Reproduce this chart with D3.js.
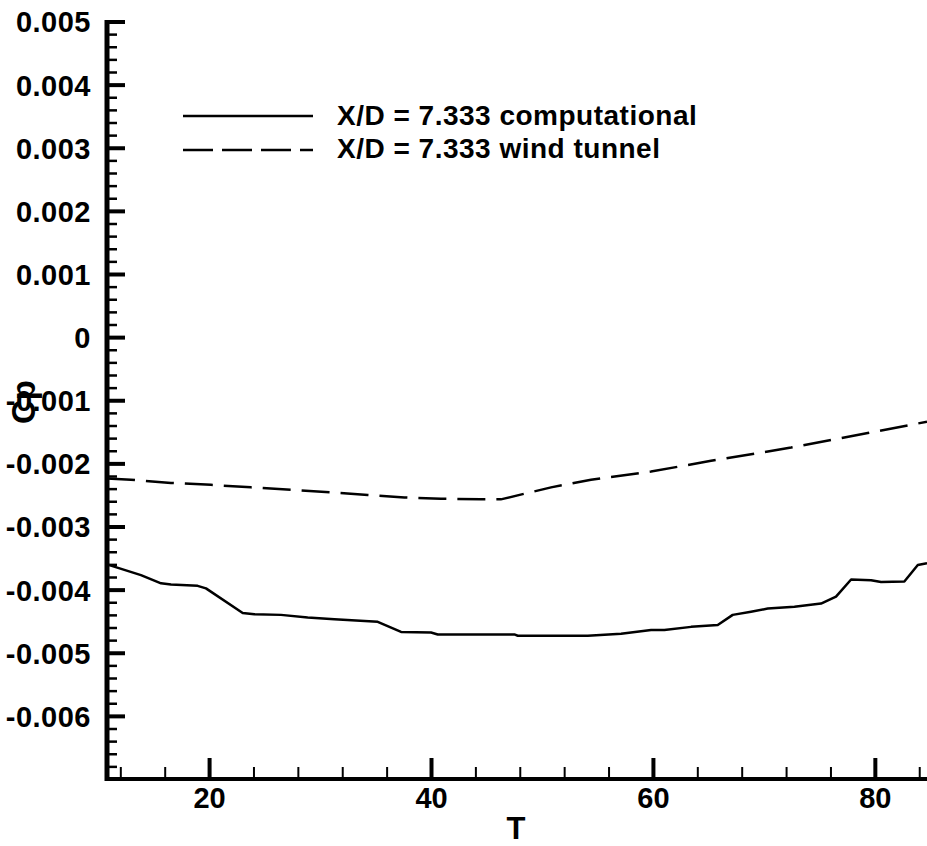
<!DOCTYPE html>
<html><head><meta charset="utf-8">
<script src="https://cdn.jsdelivr.net/npm/d3@7"></script>
<style>
html,body{margin:0;padding:0;background:#fff;}
svg{display:block;}
text{font-family:"Liberation Sans",Arial,Helvetica,sans-serif;font-weight:bold;fill:#000;}
</style>
</head><body>
<svg id="chart" width="927" height="846"></svg>
<script>
// ---- data ----
const compT  = [10.8, 13.86, 15.67, 16.57, 18.97, 19.72, 23.03, 24.08, 26.48, 28.89, 31.29, 35.20, 37.30, 40.00, 40.61, 47.51, 47.82, 54.13, 57.13, 59.83, 61.03, 63.44, 65.84, 67.19, 68.84, 70.35, 72.75, 75.15, 76.50, 77.86, 79.66, 80.56, 82.66, 83.87, 84.7];
const compCp = [-0.00360, -0.00377, -0.00390, -0.00392, -0.00394, -0.00398, -0.00437, -0.00439, -0.00440, -0.00444, -0.00447, -0.00451, -0.00467, -0.00468, -0.00471, -0.00471, -0.00473, -0.00473, -0.00470, -0.00464, -0.00464, -0.00459, -0.00456, -0.00440, -0.00435, -0.00430, -0.00427, -0.00422, -0.00411, -0.00384, -0.00385, -0.00388, -0.00387, -0.00361, -0.00358];

const tunnelT  = [10.8, 12.96, 16.57, 20.17, 23.78, 27.38, 30.99, 34.30, 37.60, 40.90, 44.51, 46.30, 50.82, 54.42, 59.83, 65.24, 72.45, 79.36, 84.7];
const tunnelCp = [-0.00224, -0.00226, -0.00231, -0.00234, -0.00238, -0.00242, -0.00246, -0.00250, -0.00254, -0.00256, -0.00257, -0.00257, -0.00238, -0.00226, -0.00213, -0.00196, -0.00175, -0.00152, -0.00134];

const seriesNames = ["X/D = 7.333 computational", "X/D = 7.333 wind tunnel"];

const yMajorTicks  = [-0.006, -0.005, -0.004, -0.003, -0.002, -0.001, 0, 0.001, 0.002, 0.003, 0.004, 0.005];
const yTickLabels  = ["-0.006", "-0.005", "-0.004", "-0.003", "-0.002", "-0.001", "0", "0.001", "0.002", "0.003", "0.004", "0.005"];
const xMajorTicks  = [20, 40, 60, 80];
const xTickLabels  = ["20", "40", "60", "80"];
const xTitle = "T";
const yTitle = "Cp";

// ---- layout ----
const svg = d3.select("#chart");
svg.append("rect").attr("width", 927).attr("height", 846).attr("fill", "#fff");

const x = d3.scaleLinear().domain([10.8, 84.7]).range([107, 927]);
const y = d3.scaleLinear().domain([-0.007, 0.005]).range([779, 21.5]);

const yMinorTicks = d3.range(-0.0068, 0.00501, 0.0002).filter(v => Math.abs(Math.round(v * 1000) - v * 1000) > 1e-6);
const xMinorTicks = d3.range(12, 85, 4).filter(v => v % 20 !== 0);

// minor y ticks
const yMinor = svg.append("g").attr("transform", "translate(107,0)")
  .call(d3.axisLeft(y).tickValues(yMinorTicks).tickSize(-10).tickSizeOuter(0).tickFormat(""));
yMinor.select(".domain").remove();
yMinor.selectAll(".tick line").attr("stroke", "#000").attr("stroke-width", 2.5);

// major y ticks + labels
const yMajor = svg.append("g").attr("transform", "translate(107,0)")
  .call(d3.axisLeft(y).tickValues(yMajorTicks).tickSize(-18).tickSizeOuter(0).tickPadding(16)
    .tickFormat((d, i) => yTickLabels[i]));
yMajor.select(".domain").attr("stroke", "#000").attr("stroke-width", 5)
  .attr("d", `M0,${y(-0.007) + 2}V${y(0.005) - 1.5}`);
yMajor.selectAll(".tick line").attr("stroke", "#000").attr("stroke-width", 4);
yMajor.selectAll(".tick text").attr("font-size", 29).attr("dy", "0.36em")
  .style("letter-spacing", "0.5px")
  .style("font-family", "'Liberation Sans', Arial, sans-serif").style("font-weight", "bold");

// minor x ticks
const xMinor = svg.append("g").attr("transform", "translate(0,779)")
  .call(d3.axisBottom(x).tickValues(xMinorTicks).tickSize(-12).tickSizeOuter(0).tickFormat(""));
xMinor.select(".domain").remove();
xMinor.selectAll(".tick line").attr("stroke", "#000").attr("stroke-width", 2);

// major x ticks + labels
const xMajor = svg.append("g").attr("transform", "translate(0,779)")
  .call(d3.axisBottom(x).tickValues(xMajorTicks).tickSize(-21).tickSizeOuter(0).tickPadding(8)
    .tickFormat((d, i) => xTickLabels[i]));
xMajor.select(".domain").attr("stroke", "#000").attr("stroke-width", 4)
  .attr("d", `M${x.range()[0] - 2},0H${x.range()[1]}`);
xMajor.selectAll(".tick line").attr("stroke", "#000").attr("stroke-width", 4);
xMajor.selectAll(".tick text").attr("font-size", 29).attr("dy", "0.71em")
  .style("font-family", "'Liberation Sans', Arial, sans-serif").style("font-weight", "bold");

// ---- curves ----
const line = d3.line().x(d => x(d[0])).y(d => y(d[1]));
const compData = compT.map((t, i) => [t, compCp[i]]);
const tunnelData = tunnelT.map((t, i) => [t, tunnelCp[i]]);

svg.append("path").datum(compData).attr("d", line)
  .attr("fill", "none").attr("stroke", "#000").attr("stroke-width", 2.5).attr("stroke-linejoin", "round");
svg.append("path").datum(tunnelData).attr("d", line)
  .attr("fill", "none").attr("stroke", "#000").attr("stroke-width", 2.5).attr("stroke-dasharray", "28,11");

// ---- legend ----
const legendRows = [
  {name: seriesNames[0], dash: null, ly: 116, ty: 125},
  {name: seriesNames[1], dash: "30,9", ly: 150, ty: 158}
];
legendRows.forEach(r => {
  svg.append("line").attr("x1", 183).attr("x2", 313).attr("y1", r.ly).attr("y2", r.ly)
    .attr("stroke", "#000").attr("stroke-width", 2.5).attr("stroke-dasharray", r.dash);
  svg.append("text").attr("x", 337).attr("y", r.ty).attr("font-size", 28)
    .style("letter-spacing", "0.5px").text(r.name);
});

// ---- axis titles ----
svg.append("text").attr("x", 516).attr("y", 839).attr("text-anchor", "middle")
  .attr("font-size", 31).text(xTitle);
svg.append("text").attr("transform", "translate(35,402) rotate(-90)").attr("text-anchor", "middle")
  .attr("font-size", 33).text(yTitle);
</script>
</body></html>
